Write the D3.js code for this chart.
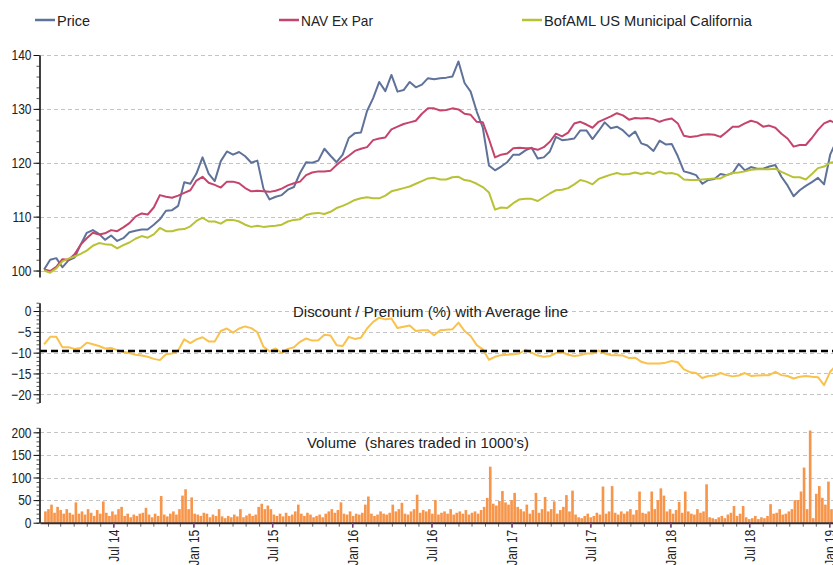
<!DOCTYPE html>
<html><head><meta charset="utf-8">
<script src="https://cdn.jsdelivr.net/npm/d3@7"></script>
<style>
body{margin:0;background:#fff;}
svg text{font-family:"Liberation Sans",Arial,sans-serif;fill:#222;}
</style></head><body>
<svg id="chart" width="833" height="565"></svg>
<script>
// ---------------- DATA ----------------
const seriesNames = ["Price", "NAV Ex Par", "BofAML US Municipal California"];
const seriesColors = ["#5f7299", "#c4446c", "#b9c135"];
const startDate = new Date(2014, 0, 23);   // first observation
const stepDays = 14;                        // bi-weekly observations

const price = [100.2,102,102.3,100.6,101.9,102.4,104.8,107,107.5,106.8,
105.7,106.5,105.5,106,107.1,107.4,107.6,107.6,108.5,109.5,
111.1,111.2,112,116.4,116.1,118,121,118,116.6,120.3,
122.1,121.5,122,121.2,120,120.4,115.2,113.2,113.7,114,
115,115.5,118.1,120.1,120,120.4,122.6,121.3,120.1,121.5,
124.6,125.5,125.6,129.6,132,135,133.3,136.3,133.2,133.5,
135,134,134.5,135.7,135.5,135.7,135.8,136,138.8,134.8,
133.2,129.5,126.5,119.5,118.6,119.3,120.1,121.5,121.5,122.3,
122.8,120.8,121,122.1,124.8,124.2,124.3,124.5,126,126,
124.4,125.9,127.5,126.4,126.7,126,124.9,125.8,123.6,123.2,
122.2,124.1,123.4,123.5,121.2,118.4,118.1,117.7,116.1,116.8,
117,117.9,117.7,118.1,119.8,118.6,119.2,118.9,118.9,119.3,
119.6,117.4,115.8,113.8,114.9,115.7,116.4,117.2,116,121.5,124];

const nav = [100.2,99.9,100.7,102.1,102,103,104.8,106,107,106.7,
106.9,107.5,107.3,108,108.8,110,110.6,110.4,111.7,114,
113.7,113.5,113.9,114.4,114.9,116.7,117.4,116.3,115.9,115.4,
116.5,116.5,116.2,115.3,114.7,114.8,114.7,114.6,114.8,115.2,
115.8,116.2,116.5,117.7,118.2,118.4,118.4,118.5,119.6,120.5,
121.3,122.2,122.6,122.9,124.2,124.5,124.7,126.2,126.7,127.2,
127.5,127.8,129.1,130.1,130.1,129.7,129.8,130.1,129.9,129.1,
128.9,127.6,127.5,124.4,121,121.5,121.7,122.7,122.8,122.7,
122.7,122.4,122.9,123.9,125.4,124.9,125.6,127.3,127.6,127.1,
126.5,127.6,128.1,128.6,129.2,128.8,128,128.3,128.2,128.3,
128.1,127.6,128,128.2,127.3,125,124.8,124.9,125.2,125.3,
125.2,124.8,125.7,126.7,126.7,127.3,127.8,127.5,126.7,126.9,
126.5,125.4,124.5,123,123.3,123.3,124.6,126.1,127.3,127.8,127.3];

const benchmark = [100,99.6,100.4,101.7,102.2,102.6,103.1,103.7,104.6,105.1,
104.9,104.8,104.1,104.7,105.2,105.9,106.4,106.1,106.7,107.9,
107.3,107.3,107.6,107.7,108.2,109.2,109.8,109.1,109.1,108.7,
109.4,109.4,109.1,108.5,108.1,108.3,108.1,108.2,108.3,108.5,
109.1,109.4,109.5,110.3,110.6,110.7,110.5,110.9,111.6,112,
112.5,113.1,113.4,113.6,113.4,113.4,113.9,114.7,115,115.3,
115.6,116.1,116.6,117.1,117.2,116.9,116.9,117.3,117.4,116.8,
116.6,116.1,115.5,114.5,111.3,111.7,111.6,112.5,113.2,113.3,
113.3,112.9,113.6,114.3,114.9,115,115.3,116,116.8,116.5,
116,117,117.4,117.8,118.1,117.8,117.9,118.2,117.9,118.2,
117.9,118.4,118,118.1,117.8,116.9,116.8,116.8,116.9,117,
117.1,117.1,117.7,118.1,118.2,118.4,118.7,118.8,118.8,118.8,
118.9,118.3,117.8,117.3,117.3,116.9,117.9,119,119.3,120,120.2];

const discount = [-8,-6.2,-6.2,-8.7,-8.7,-9.1,-8.9,-7.6,-8,-8.4,
-9,-8.9,-9.4,-9.8,-10.1,-10.5,-10.7,-11,-11.5,-11.8,
-10.4,-10.2,-9.5,-6.8,-7.7,-6.8,-6.3,-7.3,-7.3,-4.8,
-4.2,-5.2,-4.2,-3.7,-4.1,-5.1,-8.6,-9.7,-9,-10.1,
-9.1,-8.7,-7.4,-6.6,-7.1,-7,-5.7,-5.9,-8.2,-8.4,
-6.2,-6.7,-6.4,-4.2,-2.6,-1.6,-2,-1.8,-4.1,-3.8,
-3.5,-4.8,-4.6,-4.6,-5.8,-4.6,-4.5,-4.4,-2.8,-4.8,
-6,-8.2,-9.2,-11.7,-11,-10.6,-10.5,-10.4,-10.2,-9.3,
-10,-10.7,-11,-10.8,-10.1,-9.9,-10.5,-10.8,-10.6,-10.2,
-10.2,-9.5,-10.2,-10.6,-10.6,-10.7,-11.3,-11.2,-12.2,-12.6,
-12.6,-12.6,-12.4,-12,-12.3,-14,-14.7,-14.9,-16.1,-15.6,
-15.5,-14.9,-15.4,-15.7,-15.5,-14.9,-15.6,-15.5,-15.4,-15.4,
-14.6,-15.4,-15.6,-16.2,-15.8,-15.6,-15.8,-15.9,-17.8,-14.6,-13];
const discountAverage = -9.6;

const volumeStepDays = 7;                   // weekly volume bars
const volume = [25,30,40,22,35,28,20,30,22,18,
45,20,25,18,30,22,15,28,20,47,
22,15,25,18,30,35,15,20,12,18,
15,20,22,33,18,12,20,15,59,18,
14,20,25,18,30,60,74,30,56,20,
18,15,22,20,12,18,15,30,14,10,
15,12,18,14,30,12,16,20,15,18,
35,42,30,38,30,18,15,20,14,22,
15,18,25,40,20,15,22,18,12,15,
18,12,20,25,30,22,28,45,20,18,
25,15,20,18,22,40,58,20,15,18,
25,20,18,22,40,25,30,44,20,18,
25,30,62,22,28,25,30,20,50,18,
22,25,20,30,18,22,25,20,28,18,
22,25,20,28,35,55,124,42,38,48,
70,45,40,50,66,35,30,25,40,20,
28,66,22,30,57,25,30,47,20,28,
35,61,25,71,18,12,10,15,20,12,
15,22,18,80,20,25,81,22,18,25,
20,25,30,18,28,69,22,20,25,69,
30,50,76,60,25,30,20,28,46,22,
69,25,20,18,30,22,25,85,12,10,
8,12,15,10,18,22,37,15,20,37,
12,8,10,15,8,12,10,15,41,20,
22,30,18,20,25,30,50,50,69,122,
30,204,10,64,81,55,40,91,30,35];

const priceTicks = [100, 110, 120, 130, 140];
const discountTicks = [0, -5, -10, -15, -20];
const volumeTicks = [0, 50, 100, 150, 200];
const discountTitle = "Discount / Premium (%) with Average line";
const volumeTitle = "Volume  (shares traded in 1000\u2019s)";

// ---------------- CHART ----------------
const NARROW = 0.8;   // horizontal compression to mimic a narrow sans font
const svg = d3.select("#chart");
const L = 40, R = 833;
const dates = price.map((_, i) => d3.timeDay.offset(startDate, i * stepDays));
const vDates = volume.map((_, i) => d3.timeDay.offset(startDate, i * volumeStepDays));

const xRef = d3.scaleTime().domain([new Date(2014, 6, 1), new Date(2019, 0, 1)]).range([113.3, 829.3]);
const x = d3.scaleTime().domain([xRef.invert(L), xRef.invert(R)]).range([L, R]);

const yTop = d3.scaleLinear().domain([98.8, 140]).range([277, 55]);
const yMid = d3.scaleLinear().domain([-22, 2]).range([402.6, 302.7]);
const yVol = d3.scaleLinear().domain([0, 210]).range([522.7, 427.8]);

svg.append("defs").append("clipPath").attr("id", "clip")
  .append("rect").attr("x", L).attr("y", 0).attr("width", R - L).attr("height", 565);

function grid(y, ticks) {
  svg.append("g").selectAll("line").data(ticks).join("line")
    .attr("x1", L).attr("x2", R)
    .attr("y1", d => Math.round(y(d)) + 0.5).attr("y2", d => Math.round(y(d)) + 0.5)
    .attr("stroke", "#c4c4c4").attr("stroke-width", 1).attr("stroke-dasharray", "4,3");
}
function yAxis(y, ticks, minorStep) {
  const [a, b] = y.domain();
  const minor = d3.range(Math.ceil(Math.min(a, b) / minorStep) * minorStep, Math.max(a, b) + 1e-9, minorStep);
  const gm = svg.append("g").attr("transform", `translate(${L - 0.5},0)`)
    .call(d3.axisLeft(y).tickValues(minor).tickSize(3).tickFormat(""));
  gm.select(".domain").remove();
  gm.selectAll("line").attr("stroke", "#555");
  const g = svg.append("g").attr("transform", `translate(${L - 0.5},0)`)
    .call(d3.axisLeft(y).tickValues(ticks).tickSize(6).tickSizeOuter(0).tickPadding(3));
  g.select(".domain").attr("stroke", "#111").attr("stroke-width", 1.6);
  g.selectAll(".tick line").attr("stroke", "#111");
  g.selectAll("text").style("font-size", "15px").attr("fill", "#222")
    .attr("x", -8 / NARROW).attr("transform", `scale(${NARROW},1)`);
}

grid(yTop, priceTicks);
grid(yMid, discountTicks);
grid(yVol, volumeTicks);

const plot = svg.append("g").attr("clip-path", "url(#clip)");
[price, nav, benchmark].forEach((vals, k) => {
  const line = d3.line().x((d, i) => x(dates[i])).y(d => yTop(d));
  plot.append("path").datum(vals).attr("d", line)
    .attr("fill", "none").attr("stroke", seriesColors[k]).attr("stroke-width", 2)
    .attr("stroke-linejoin", "round");
});

plot.append("path").datum(discount)
  .attr("d", d3.line().x((d, i) => x(dates[i])).y(d => yMid(d)))
  .attr("fill", "none").attr("stroke", "#f9c24c").attr("stroke-width", 2).attr("stroke-linejoin", "round");
plot.append("line").attr("x1", L).attr("x2", R)
  .attr("y1", yMid(discountAverage)).attr("y2", yMid(discountAverage))
  .attr("stroke", "#000").attr("stroke-width", 2.5).attr("stroke-dasharray", "7,4");

plot.append("g").selectAll("rect").data(volume).join("rect")
  .attr("x", (d, i) => x(vDates[i]))
  .attr("width", (d, i) => Math.max(0.5, x(d3.timeDay.offset(vDates[i], volumeStepDays)) - x(vDates[i]) - 0.4))
  .attr("y", d => yVol(d))
  .attr("height", d => yVol(0) - yVol(d))
  .attr("fill", "#f7964b");

yAxis(yTop, priceTicks, 2);
yAxis(yMid, discountTicks, 1);
yAxis(yVol, volumeTicks, 10);

const xMinor = svg.append("g").attr("transform", `translate(0,${yVol(0)})`)
  .call(d3.axisBottom(x).ticks(d3.timeMonth.every(1)).tickSize(4).tickFormat(""));
xMinor.select(".domain").remove();
xMinor.selectAll("line").attr("stroke", "#666");
const xg = svg.append("g").attr("transform", `translate(0,${yVol(0)})`)
  .call(d3.axisBottom(x).ticks(d3.timeMonth.every(6)).tickSize(5).tickSizeOuter(0)
    .tickFormat(d3.timeFormat("%b %y")));
xg.select(".domain").attr("stroke", "#3a2a2a").attr("stroke-width", 2);
xg.selectAll(".tick line").attr("stroke", "#7a3b7a").attr("stroke-width", 1.5);
xg.selectAll("text")
  .style("font-size", "15px")
  .attr("text-anchor", "end")
  .attr("transform", `rotate(-90) scale(${NARROW},1)`)
  .attr("x", -7 / NARROW).attr("y", 0).attr("dy", "0.36em");

function fitText(sel, width) {
  sel.attr("textLength", width).attr("lengthAdjust", "spacingAndGlyphs");
}
fitText(svg.append("text").attr("x", 293).attr("y", 316.5)
  .style("font-size", "15px").text(discountTitle), 275);
fitText(svg.append("text").attr("x", 307).attr("y", 447.5)
  .style("font-size", "15px").style("white-space", "pre").text(volumeTitle), 222);

const legendX = [35, 279, 522];
const legendW = [33, 72, 208];
seriesNames.forEach((name, k) => {
  const g = svg.append("g").attr("transform", `translate(${legendX[k]},20)`);
  g.append("line").attr("x1", 0).attr("x2", 20).attr("y1", 0).attr("y2", 0)
    .attr("stroke", seriesColors[k]).attr("stroke-width", 2.5);
  fitText(g.append("text").attr("x", 22).attr("y", 6).style("font-size", "15px").text(name), legendW[k]);
});
</script>
</body></html>
